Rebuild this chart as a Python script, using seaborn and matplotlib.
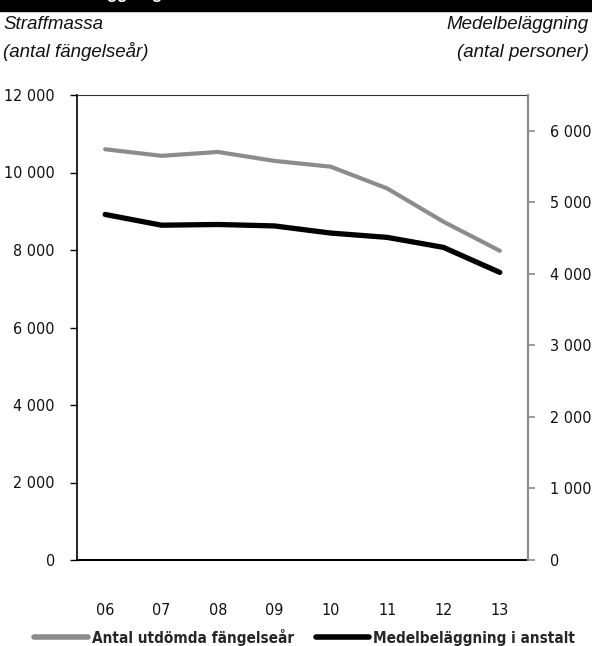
import matplotlib
matplotlib.use("Agg")
import matplotlib.pyplot as plt
import seaborn as sns
import numpy as np
import pandas as pd
from matplotlib.lines import Line2D
from matplotlib.ticker import FuncFormatter, FixedLocator
from matplotlib import font_manager as fm

years = ["06", "07", "08", "09", "10", "11", "12", "13"]
straffmassa = [10600, 10430, 10530, 10300, 10150, 9590, 8730, 7980]
belaggning = [4830, 4680, 4690, 4670, 4570, 4510, 4370, 4020]
left_ticks = [0, 2000, 4000, 6000, 8000, 10000, 12000]
right_ticks = [0, 1000, 2000, 3000, 4000, 5000, 6000]

sns.set_theme(style="white")
plt.rcParams['font.family'] = ['Liberation Sans', 'DejaVu Sans']


def find_condensed(bold):
    cands = []
    for f in fm.fontManager.ttflist:
        nm = (f.name + " " + f.fname).lower()
        cond = ("narrow" in nm or "condensed" in nm or f.stretch in ("condensed", "semi-condensed", "extra-condensed"))
        if not cond:
            continue
        if f.style != "normal":
            continue
        isbold = f.weight in ("bold", 700, "heavy", 800) or (isinstance(f.weight, int) and f.weight >= 600)
        if isbold != bold:
            continue
        score = 0
        if "liberation" in nm:
            score -= 3
        if "dejavu" in nm:
            score -= 1
        cands.append((score, f.fname))
    if cands:
        cands.sort()
        return fm.FontProperties(fname=cands[0][1])
    return fm.FontProperties(family=["Liberation Sans", "DejaVu Sans"],
                             weight="bold" if bold else "normal")


fp_reg = find_condensed(False)
fp_bold = find_condensed(True)

df = pd.DataFrame({"pos": np.arange(len(years)), "year": years,
                   "straff": straffmassa, "bel": belaggning})

fig = plt.figure(figsize=(5.92, 6.46), dpi=100)
ax = fig.add_axes([77/592, 1-560/646, (528-77)/592, (560-95)/646])
ax2 = ax.twinx()

gray = "#8c8c8c"
sns.lineplot(data=df, x="pos", y="straff", ax=ax, color=gray, linewidth=3.0,
             solid_capstyle="round", solid_joinstyle="round")
sns.lineplot(data=df, x="pos", y="bel", ax=ax2, color="black", linewidth=3.8,
             solid_capstyle="round", solid_joinstyle="round")

ax.set_xlim(-0.5, len(years) - 0.5)
ax.set_ylim(0, 12000)
ax2.set_ylim(0, 6500)

fmt = FuncFormatter(lambda v, p: f"{int(v):,}".replace(",", " "))
ax.set_yticks(left_ticks)
ax.yaxis.set_major_formatter(fmt)
ax2.set_yticks(right_ticks)
ax2.yaxis.set_major_formatter(fmt)

ax.set_xticks(np.arange(len(years)))
ax.set_xticklabels(years)
ax.xaxis.set_minor_locator(FixedLocator(np.arange(-0.5, len(years), 1.0)))
ax.tick_params(axis="x", which="major", length=0, pad=31)
ax.tick_params(axis="x", which="minor", direction="inout", length=9, width=1.0, color="black")
ax.tick_params(axis="y", direction="out", length=5, width=1.0, color="black", pad=11)
ax2.tick_params(axis="y", direction="out", length=5, width=1.2, color=gray, pad=11)

for lab in ax.get_xticklabels() + ax.get_yticklabels() + ax2.get_yticklabels():
    lab.set_fontproperties(fp_reg)
    lab.set_fontsize(11.5)
    lab.set_color("#111111")

ax.set_xlabel("")
ax.set_ylabel("")
ax2.set_ylabel("")

for a in (ax, ax2):
    for s in a.spines.values():
        s.set_visible(False)
ax.spines["left"].set_visible(True)
ax.spines["left"].set_color("black")
ax.spines["left"].set_linewidth(1.2)
ax.spines["bottom"].set_visible(True)
ax.spines["bottom"].set_color("black")
ax.spines["bottom"].set_linewidth(1.5)
ax.spines["top"].set_visible(True)
ax.spines["top"].set_color("#333333")
ax.spines["top"].set_linewidth(0.8)
ax2.spines["right"].set_visible(True)
ax2.spines["right"].set_color(gray)
ax2.spines["right"].set_linewidth(1.6)
ax.grid(False)
ax2.grid(False)

# Title bar (cut off at top)
fig.patches.append(plt.Rectangle((0, 1 - 11/646), 1, 11/646, transform=fig.transFigure,
                                 color="black", zorder=0))
fig.text(28/592, 1 + 0.5/646, "Medelbeläggning", color="white", fontsize=12, fontweight="bold",
         family=["Liberation Sans", "DejaVu Sans"], va="baseline", ha="left")

# Axis headers
hdr = dict(fontsize=13.5, style="italic", family=["Liberation Sans", "DejaVu Sans"], color="#111111")
fig.text(3/592, 1 - 29/646, "Straffmassa", ha="left", va="baseline", **hdr)
fig.text(3/592, 1 - 57/646, "(antal fängelseår)", ha="left", va="baseline", **hdr)
fig.text(589/592, 1 - 29/646, "Medelbeläggning", ha="right", va="baseline", **hdr)
fig.text(589/592, 1 - 57/646, "(antal personer)", ha="right", va="baseline", **hdr)

handles = [Line2D([0], [0], color=gray, linewidth=4, solid_capstyle="round"),
           Line2D([0], [0], color="black", linewidth=4, solid_capstyle="round")]
labels = ["Antal utdömda fängelseår", "Medelbeläggning i anstalt"]
leg = fig.legend(handles, labels, loc="center", bbox_to_anchor=(0.515, 1 - 637/646), ncol=2,
                 frameon=False, handlelength=3.2, handletextpad=0.25, columnspacing=1.3,
                 prop=fp_bold)
for t in leg.get_texts():
    t.set_fontsize(11)

fig.savefig("out.png", dpi=100)
